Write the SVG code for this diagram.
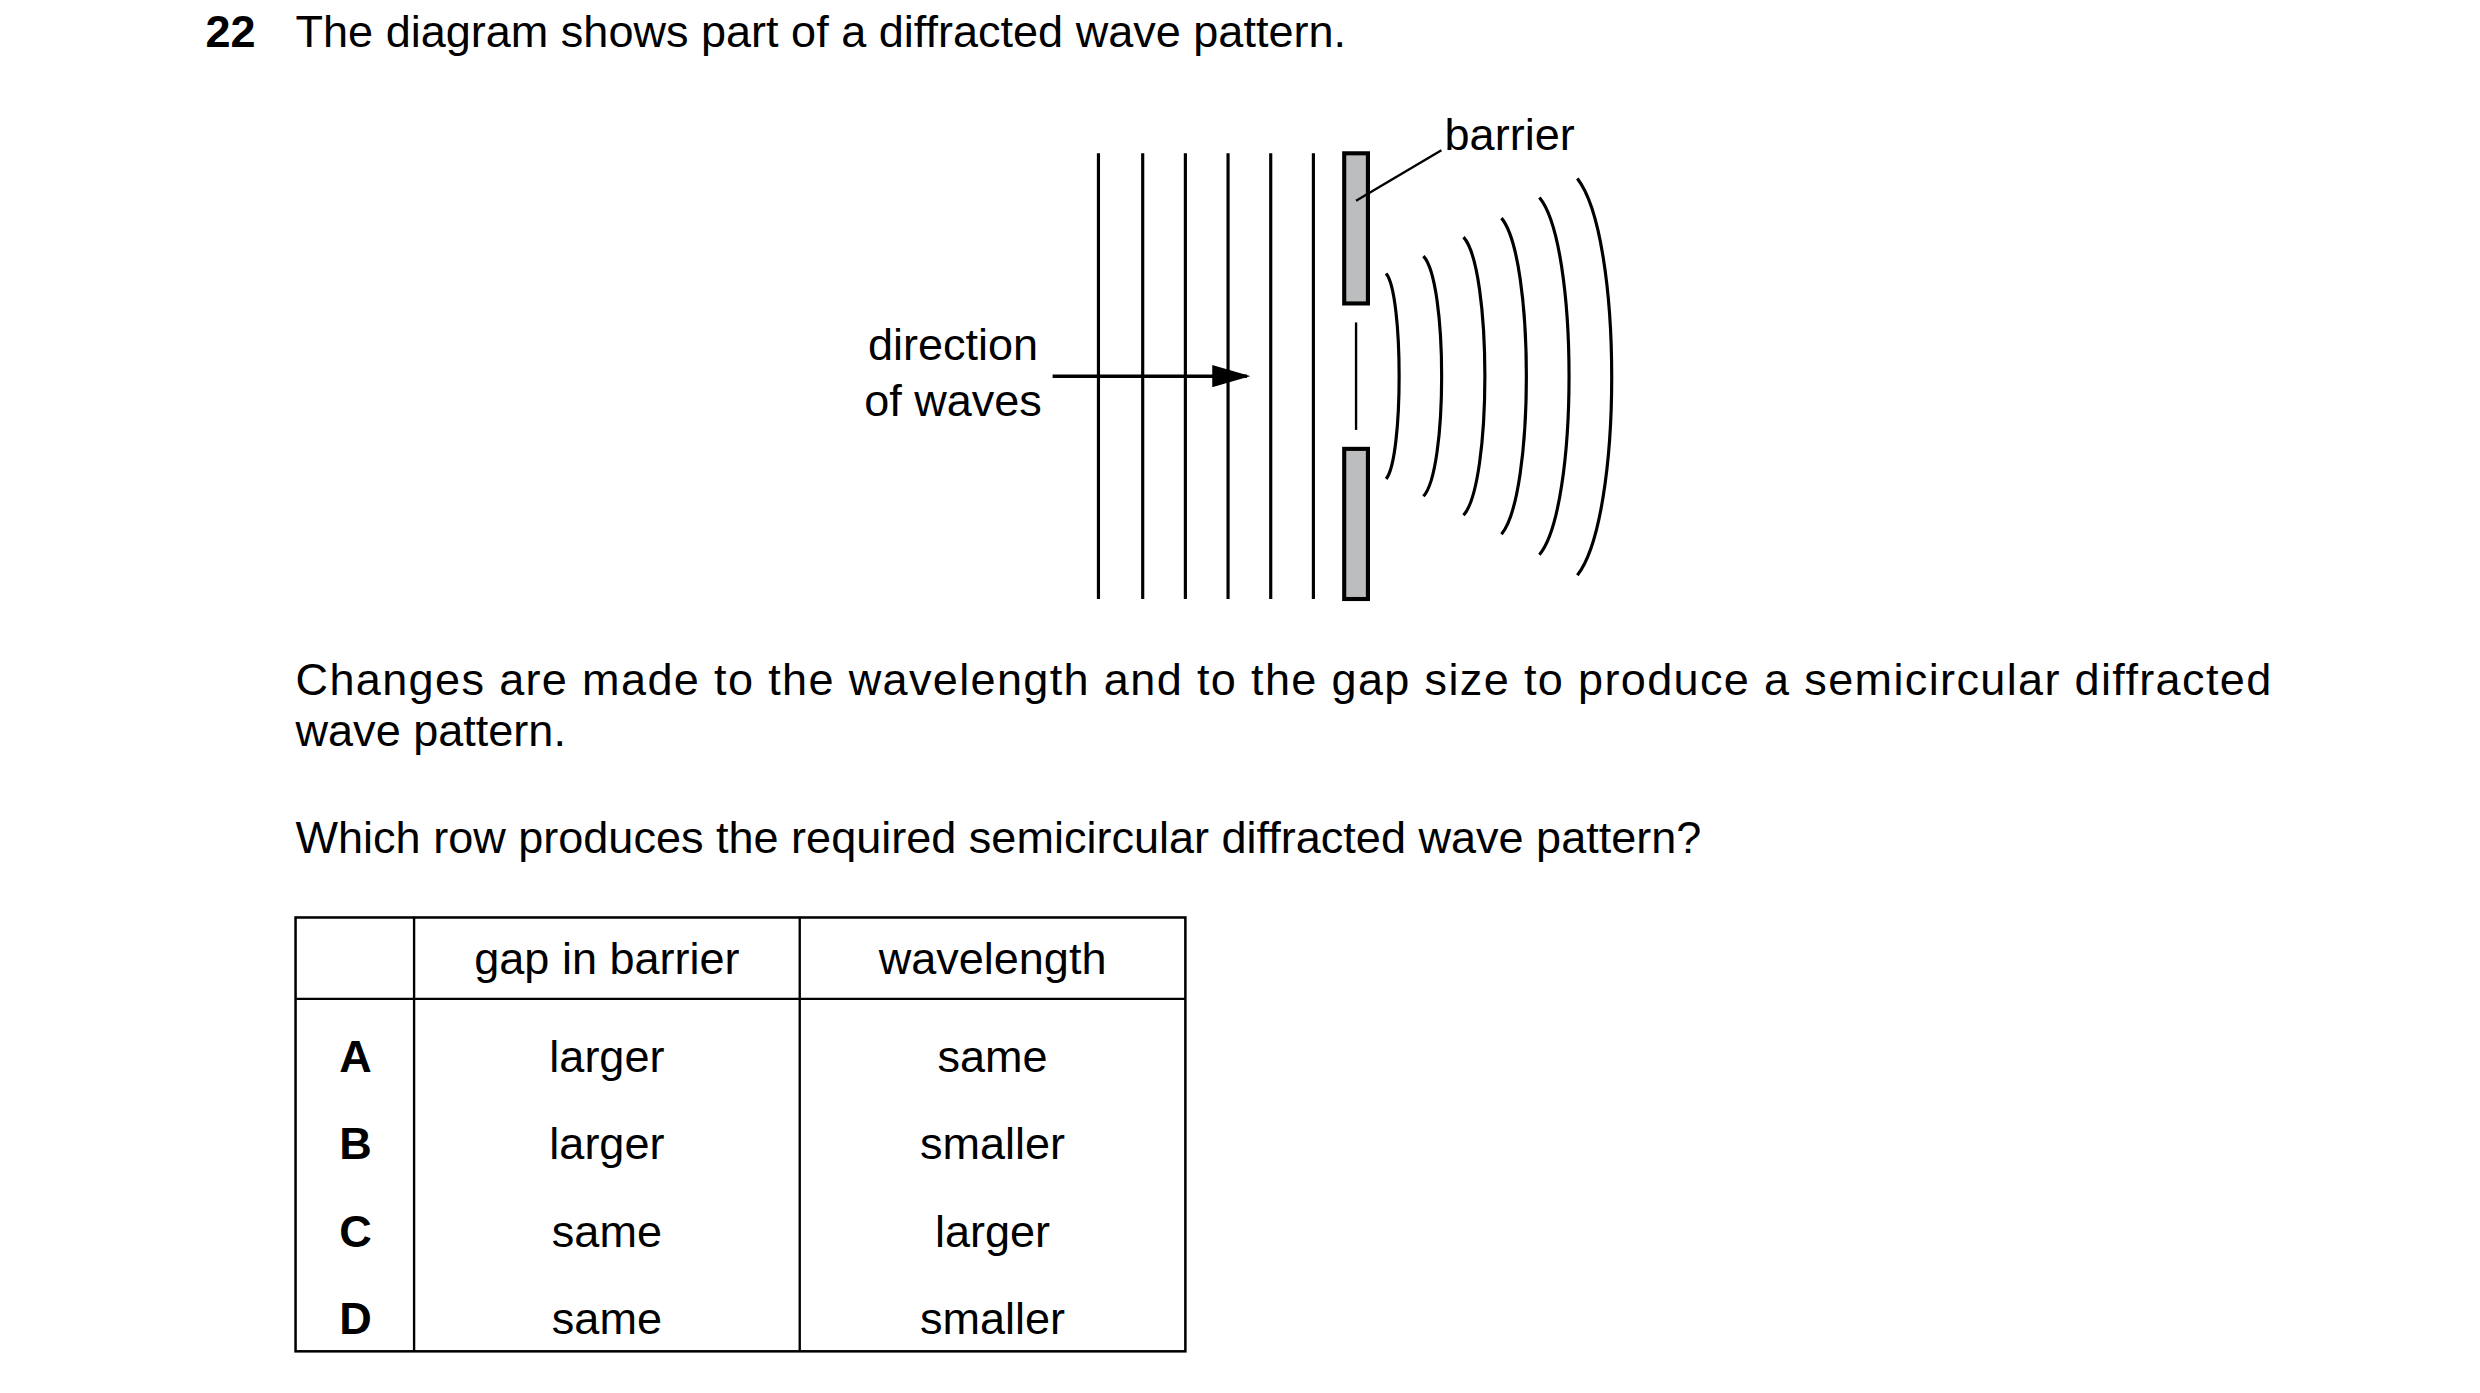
<svg xmlns="http://www.w3.org/2000/svg" width="2480" height="1393" viewBox="0 0 2480 1393">
<style>
text{font-family:"Liberation Sans",Arial,sans-serif;font-size:28.5px;fill:#000}
.b{font-weight:bold}
.c{text-anchor:middle}
.w{stroke:#000;stroke-width:2;fill:none}
.bar{fill:#bcbdbf;stroke:#000;stroke-width:2.6}
.t{stroke:#000;stroke-width:1.5;fill:none}
</style>
<defs><marker id="ah" markerWidth="24" markerHeight="14" refX="22" refY="7" orient="auto" markerUnits="userSpaceOnUse"><path d="M0,0 L24,7 L0,14 Z" fill="#000"/></marker></defs>
<rect width="2480" height="1393" fill="#fff"/>
<g transform="scale(1.5805)">
<g id="title"><text class="b" x="130" y="30">22</text><text x="187" y="30">The diagram shows part of a diffracted wave pattern.</text></g>
<g id="waves">
<path class="w" d="M695,97V379M723,97V379M750,97V379M777,97V379M804,97V379M831,97V379"/>
</g>
<g id="barrier">
<rect class="bar" x="850.5" y="97" width="15" height="95"/>
<rect class="bar" x="850.5" y="284" width="15" height="95"/>
<path class="t" d="M858,204V272"/>
<text x="914" y="95">barrier</text>
</g>
<g id="diffracted">
<path class="w" d="M877,173C888,186 888,290 877,303"/>
<path class="w" d="M900.6,162C916,178 916,298 900.6,314"/>
<path class="w" d="M926,150C944,170 944,306 926,326"/>
<path class="w" d="M950,138C971,163 971,313 950,338"/>
<path class="w" d="M974,125C999,155 999,321 974,351"/>
<path class="w" d="M998,113C1027,150 1027,327 998,364"/>
</g>
<g id="label"><text class="c" x="603" y="228">direction</text><text class="c" x="603" y="263">of waves</text></g>
<g id="connectors">
<path class="t" d="M858,127L912,95"/>
<path stroke="#000" stroke-width="2.2" d="M666,238H789" marker-end="url(#ah)"/>
</g>
<g id="text">
<text x="187" y="440" textLength="1250" lengthAdjust="spacing">Changes are made to the wavelength and to the gap size to produce a semicircular diffracted</text>
<text x="187" y="472">wave pattern.</text>
<text x="187" y="540">Which row produces the required semicircular diffracted wave pattern?</text>
</g>
<g id="table">
<rect x="187" y="580.5" width="563" height="274.5" fill="none" stroke="#000" stroke-width="1.6"/>
<path class="t" d="M262,580V855M506,580V855M187,632H750"/>
<text class="c" x="384" y="616">gap in barrier</text><text class="c" x="628" y="616">wavelength</text>
<text class="c b" x="225" y="678">A</text><text class="c" x="384" y="678">larger</text><text class="c" x="628" y="678">same</text>
<text class="c b" x="225" y="733">B</text><text class="c" x="384" y="733">larger</text><text class="c" x="628" y="733">smaller</text>
<text class="c b" x="225" y="789">C</text><text class="c" x="384" y="789">same</text><text class="c" x="628" y="789">larger</text>
<text class="c b" x="225" y="844">D</text><text class="c" x="384" y="844">same</text><text class="c" x="628" y="844">smaller</text>
</g>
</g>
</svg>
